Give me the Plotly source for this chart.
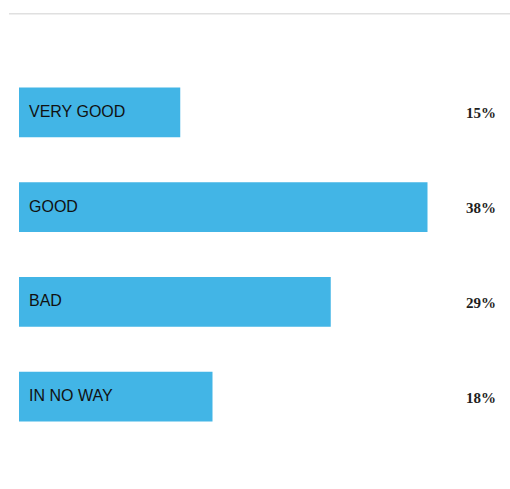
import plotly.graph_objects as go

categories = ["VERY GOOD", "GOOD", "BAD", "IN NO WAY"]
values = [15, 38, 29, 18]
value_labels = ["15%", "38%", "29%", "18%"]

bar_color = "#42b5e6"
positions = list(range(len(categories)))

fig = go.Figure(
    go.Bar(
        x=values,
        y=positions,
        orientation="h",
        marker=dict(color=bar_color, line=dict(width=0)),
        hoverinfo="skip",
    )
)

annotations = []
for pos, cat, lab in zip(positions, categories, value_labels):
    # category name inside the bar, near its start
    annotations.append(dict(
        x=0, y=pos, xref="x", yref="y", text=cat, showarrow=False,
        xanchor="left", yanchor="middle", xshift=8, yshift=1,
        font=dict(family="Liberation Sans, Arial", size=16, color="#111111"),
    ))
    # percentage at the right edge
    annotations.append(dict(
        x=1, y=pos, xref="paper", yref="y", text=f"<b>{lab}</b>", showarrow=False,
        xanchor="right", yanchor="middle", xshift=3, yshift=-1,
        font=dict(family="Liberation Serif, Times New Roman", size=15, color="#1e1e1e"),
    ))

fig.update_layout(
    width=510, height=489,
    margin=dict(l=19, r=15, t=64.5, b=44.5),
    paper_bgcolor="white", plot_bgcolor="white",
    bargap=0.474,
    showlegend=False,
    xaxis=dict(range=[0, 476 / 10.75], visible=False, fixedrange=True),
    yaxis=dict(range=[3.5, -0.5], visible=False, fixedrange=True),
    annotations=annotations,
    shapes=[dict(
        type="line", xref="paper", yref="paper",
        x0=-10 / 476, x1=491 / 476, y0=(444.5 - 13) / 380, y1=(444.5 - 13) / 380,
        line=dict(color="#e0e0e0", width=1.5),
    )],
)

fig.write_html("out.html", config={"displayModeBar": False})
